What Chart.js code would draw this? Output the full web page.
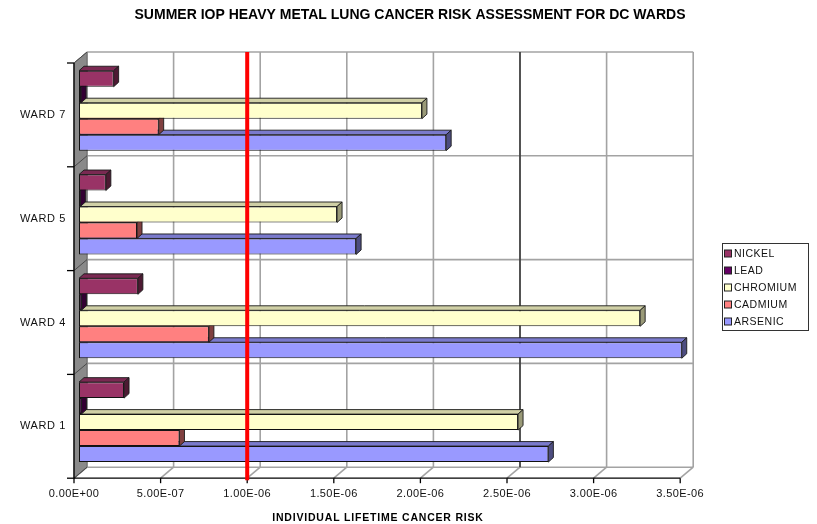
<!DOCTYPE html>
<html>
<head>
<meta charset="utf-8">
<style>
  html, body { margin: 0; padding: 0; background: #ffffff; overflow: hidden; }
  canvas { display: block; }
</style>
<script src="https://cdn.jsdelivr.net/npm/chart.js@4.4.1/dist/chart.umd.min.js"></script>
</head>
<body>
<canvas id="riskChart" width="817" height="524"></canvas>
<script>
// ---- data ----
const wards = ['WARD 7', 'WARD 5', 'WARD 4', 'WARD 1'];
const metals = ['NICKEL', 'LEAD', 'CHROMIUM', 'CADMIUM', 'ARSENIC'];

const nickel   = [2.0e-7, 1.55e-7, 3.4e-7, 2.6e-7];
const lead     = [1.2e-8, 0.8e-8, 1.4e-8, 1.4e-8];
const chromium = [1.98e-6, 1.49e-6, 3.24e-6, 2.535e-6];
const cadmium  = [4.6e-7, 3.35e-7, 7.5e-7, 5.8e-7];
const arsenic  = [2.12e-6, 1.6e-6, 3.48e-6, 2.71e-6];

const tickValues = [0, 5e-7, 1e-6, 1.5e-6, 2e-6, 2.5e-6, 3e-6, 3.5e-6];
const tickLabels = ['0.00E+00', '5.00E-07', '1.00E-06', '1.50E-06', '2.00E-06', '2.50E-06', '3.00E-06', '3.50E-06'];

const riskThreshold = 1e-6;   // red reference line
const darkGridValue = 2.5e-6; // darker grid line on the back wall

const chartTitle = 'SUMMER IOP HEAVY METAL LUNG CANCER RISK ASSESSMENT FOR DC WARDS';
const axisTitle = 'INDIVIDUAL LIFETIME CANCER RISK';

// ---- styling ----
const FONT = "'Liberation Sans', Arial, Helvetica, sans-serif";
const FRONT = { dx: -5, dy: 4.2 };    // front plane relative to the bar plane
const BACK = { dx: 8, dy: -6.8 };     // back wall relative to the bar plane
const BAR_DEPTH = { dx: 5, dy: -4.5 };  // extrusion of each bar

const palette = [
  { face: '#993366', top: '#7a2952', side: '#4d1a33' },
  { face: '#660066', top: '#520052', side: '#330033' },
  { face: '#FFFFCC', top: '#d0d0a6', side: '#9a9a78' },
  { face: '#FF8080', top: '#cc6666', side: '#804040' },
  { face: '#9999FF', top: '#7a7acc', side: '#4d4d80' }
];

const seriesValues = [nickel, lead, chromium, cadmium, arsenic];

function line(ctx, x1, y1, x2, y2) {
  ctx.beginPath();
  ctx.moveTo(x1, y1);
  ctx.lineTo(x2, y2);
  ctx.stroke();
}

function poly(ctx, pts, fill, stroke, lw) {
  ctx.beginPath();
  ctx.moveTo(pts[0][0], pts[0][1]);
  for (let i = 1; i < pts.length; i++) ctx.lineTo(pts[i][0], pts[i][1]);
  ctx.closePath();
  if (fill) { ctx.fillStyle = fill; ctx.fill(); }
  if (stroke) { ctx.strokeStyle = stroke; ctx.lineWidth = lw || 1; ctx.stroke(); }
}

function categoryGeometry(chart) {
  const ys = chart.scales.y;
  const centers = wards.map((_, i) => ys.getPixelForValue(i));
  const step = centers.length > 1 ? centers[1] - centers[0] : chart.chartArea.bottom - chart.chartArea.top;
  const bounds = centers.map(c => c - step / 2);
  bounds.push(centers[centers.length - 1] + step / 2);
  return { centers, bounds };
}

// walls, floor, axes and tick labels behind the bars
const frame3d = {
  id: 'frame3d',
  beforeDatasetsDraw(chart) {
    const ctx = chart.ctx;
    const xs = chart.scales.x;
    const { centers, bounds } = categoryGeometry(chart);
    const top = bounds[0], bot = bounds[bounds.length - 1];
    const x0 = xs.getPixelForValue(tickValues[0]);
    const x1 = xs.getPixelForValue(tickValues[tickValues.length - 1]);
    ctx.save();

    // back wall grid
    ctx.strokeStyle = '#a3a3a3';
    ctx.lineWidth = 1.6;
    tickValues.forEach(v => {
      const px = xs.getPixelForValue(v) + BACK.dx;
      line(ctx, px, top + BACK.dy, px, bot + BACK.dy);
    });
    bounds.forEach(b => line(ctx, x0 + BACK.dx, b + BACK.dy, x1 + BACK.dx, b + BACK.dy));

    // floor
    tickValues.forEach(v => {
      const px = xs.getPixelForValue(v);
      line(ctx, px + FRONT.dx, bot + FRONT.dy, px + BACK.dx, bot + BACK.dy);
    });

    // darker grid line
    ctx.strokeStyle = '#111';
    ctx.lineWidth = 1.2;
    const dg = xs.getPixelForValue(darkGridValue) + BACK.dx;
    line(ctx, dg, top + BACK.dy, dg, bot + BACK.dy);

    // side wall
    poly(ctx, [
      [x0 + FRONT.dx, top + FRONT.dy], [x0 + BACK.dx, top + BACK.dy],
      [x0 + BACK.dx, bot + BACK.dy], [x0 + FRONT.dx, bot + FRONT.dy]
    ], '#8a8a8a', '#6a6a6a', 1);
    ctx.strokeStyle = '#4a4a4a';
    ctx.lineWidth = 1;
    bounds.forEach(b => line(ctx, x0 + FRONT.dx, b + FRONT.dy, x0 + BACK.dx, b + BACK.dy));

    // front axes
    ctx.strokeStyle = '#000';
    ctx.lineWidth = 1.3;
    const fx0 = x0 + FRONT.dx, fy = bot + FRONT.dy;
    line(ctx, fx0, top + FRONT.dy, fx0, fy);
    line(ctx, fx0, fy, x1 + FRONT.dx, fy);
    tickValues.forEach(v => {
      const px = xs.getPixelForValue(v) + FRONT.dx;
      line(ctx, px, fy, px, fy + 5);
    });
    bounds.forEach(b => line(ctx, fx0 - 7, b + FRONT.dy, fx0, b + FRONT.dy));

    // tick labels
    ctx.fillStyle = '#111';
    ctx.font = `11px ${FONT}`;
    ctx.letterSpacing = '0.4px';
    ctx.textAlign = 'center';
    ctx.textBaseline = 'middle';
    tickValues.forEach((v, i) => {
      ctx.fillText(tickLabels[i], xs.getPixelForValue(v) + FRONT.dx, fy + 16);
    });

    // category labels
    ctx.textAlign = 'right';
    ctx.letterSpacing = '0.6px';
    centers.forEach((c, i) => ctx.fillText(wards[i], fx0 - 8, c + FRONT.dy));
    ctx.restore();
  },

  // extruded top and side faces of each bar
  afterDatasetDraw(chart, args) {
    const ctx = chart.ctx;
    const p = palette[args.index];
    ctx.save();
    args.meta.data.forEach(bar => {
      const { x, y, base, height } = bar.getProps(['x', 'y', 'base', 'height'], true);
      const L = Math.min(base, x), R = Math.max(base, x);
      const T = y - height / 2, B = y + height / 2;
      const dx = BAR_DEPTH.dx, dy = BAR_DEPTH.dy;
      poly(ctx, [[L, T], [L + dx, T + dy], [R + dx, T + dy], [R, T]], p.top, '#1a1a1a', 0.9);
      poly(ctx, [[R, T], [R + dx, T + dy], [R + dx, B + dy], [R, B]], p.side, '#1a1a1a', 0.9);
    });
    ctx.restore();
  },

  afterDatasetsDraw(chart) {
    const ctx = chart.ctx;
    const xs = chart.scales.x;
    const { bounds } = categoryGeometry(chart);
    const px = xs.getPixelForValue(riskThreshold) + FRONT.dx;
    ctx.save();
    ctx.strokeStyle = '#ff0000';
    ctx.lineWidth = 4;
    line(ctx, px, bounds[0] + BACK.dy, px, bounds[bounds.length - 1] + FRONT.dy + 2);
    ctx.restore();
  },

  afterDraw(chart) {
    const ctx = chart.ctx;
    ctx.save();
    ctx.fillStyle = '#000';
    ctx.textBaseline = 'middle';

    // title
    ctx.font = `bold 14px ${FONT}`;
    ctx.textAlign = 'center';
    ctx.letterSpacing = '0px';
    ctx.fillText(chartTitle, 410, 15);

    // value axis title
    ctx.font = `bold 10.5px ${FONT}`;
    ctx.letterSpacing = '0.8px';
    ctx.fillText(axisTitle, 378, 518);

    // legend
    const lx = 722.5, ly = 243.5, lw = 86, lh = 87;
    ctx.strokeStyle = '#333';
    ctx.lineWidth = 1;
    ctx.strokeRect(lx, ly, lw, lh);
    ctx.font = `10.5px ${FONT}`;
    ctx.letterSpacing = '0.5px';
    ctx.textAlign = 'left';
    chart.data.datasets.forEach((ds, i) => {
      const cy = 253.5 + i * 17;
      ctx.fillStyle = ds.backgroundColor;
      ctx.fillRect(724.5, cy - 3.5, 7, 7);
      ctx.strokeStyle = '#222';
      ctx.strokeRect(724.5, cy - 3.5, 7, 7);
      ctx.fillStyle = '#111';
      ctx.fillText(ds.label, 734, cy + 0.5);
    });
    ctx.restore();
  }
};

const datasets = metals.map((name, i) => ({
  label: name,
  data: seriesValues[i],
  backgroundColor: palette[i].face,
  borderColor: '#111',
  borderWidth: 1,
  borderSkipped: false,
  categoryPercentage: 0.77,
  barPercentage: 1.0
}));

new Chart(document.getElementById('riskChart'), {
  type: 'bar',
  data: { labels: wards, datasets },
  options: {
    indexAxis: 'y',
    responsive: false,
    animation: false,
    devicePixelRatio: 1,
    layout: { padding: { left: 79, right: 131.8, top: 58.8, bottom: 50 } },
    scales: {
      x: { type: 'linear', min: 0, max: 3.5e-6, display: false },
      y: { display: false }
    },
    plugins: {
      legend: { display: false },
      title: { display: false },
      tooltip: { enabled: false }
    }
  },
  plugins: [frame3d]
});
</script>
</body>
</html>
